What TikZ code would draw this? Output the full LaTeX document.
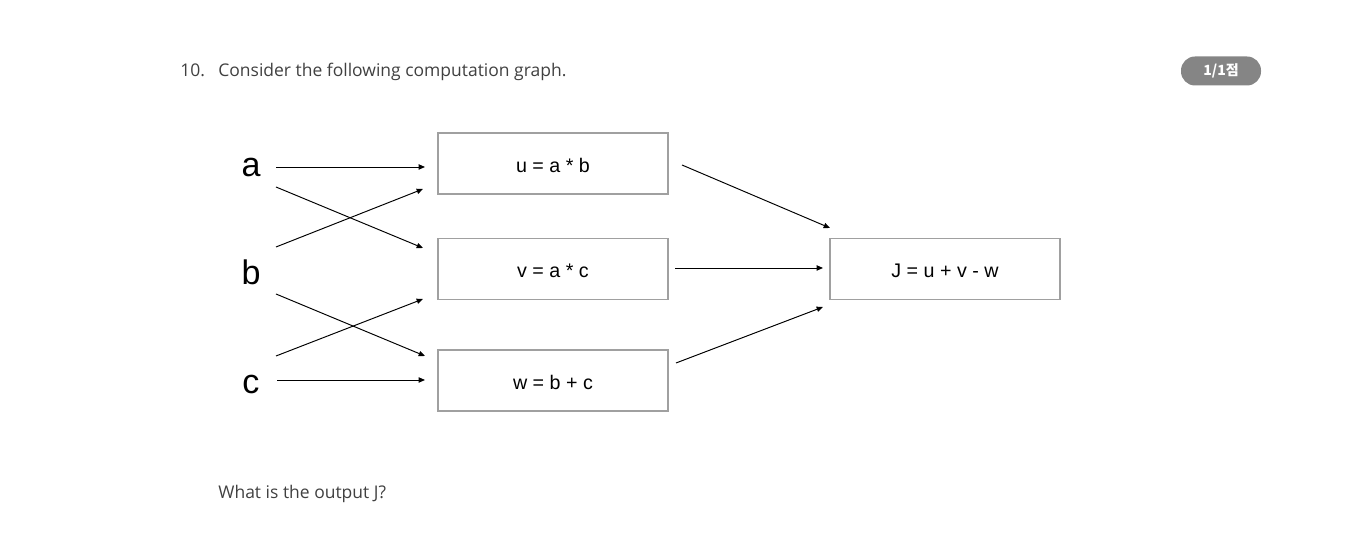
\documentclass[tikz,border=0pt]{standalone}
\usepackage{fontspec}
\setmainfont{Open Sans}
\newfontfamily\graphfont{Liberation Sans}
\newfontfamily\krfont{Noto Sans CJK KR}
\usetikzlibrary{arrows.meta}

\definecolor{textgray}{HTML}{404040}
\definecolor{boxgray}{HTML}{A0A0A0}
\definecolor{badgegray}{HTML}{858585}

\tikzset{
	op/.style={draw=boxgray, line width=0.65pt, minimum width=4.6cm, minimum height=1.22cm, inner sep=0pt, text height=1.1em, text depth=0.08em, font=\graphfont\fontsize{11.2}{13}\selectfont},
	var/.style={inner sep=0pt, font=\graphfont\fontsize{19.4}{22}\selectfont},
	edge/.style={line width=0.55pt, -{Triangle[length=3.6pt,width=3pt]}},
	plain/.style={inner sep=0pt, text=textgray, font=\fontsize{9.95}{12}\selectfont}
}

\begin{document}
\begin{tikzpicture}[x=0.02cm, y=-0.02cm]
	\useasboundingbox (0,0) rectangle (1370,546);
	
	% Question
	\node[plain, anchor=base west] (num) at (180,77) {10.};
	\node[plain, anchor=base west] (q) at (218,77) {Consider the following computation graph.};
	\node[plain, anchor=base west] (ask) at (218,499) {What is the output J?};
	
	% badge
	\node[fill=badgegray, rounded corners=0.28cm, minimum width=1.6cm, minimum height=0.58cm, inner sep=0pt, text=white, font=\krfont\bfseries\fontsize{8}{9}\selectfont] (score) at (1221,71) {1/1점};
	
	% inputs
	\node[var] (a) at (251,168) {a};
	\node[var] (b) at (251,272) {b};
	\node[var] (c) at (251,385) {c};
	
	% Boxes
	\node[op] (u) at (553,163.5) {u = a * b};
	\node[op] (v) at (553,269) {v = a * c};
	\node[op] (w) at (553,380.5) {w = b + c};
	\node[op] (J) at (945,269) {J = u + v - w};
	
	% arrow ends
	\coordinate (a1) at (276,167);
	\coordinate (a2) at (276,187);
	\coordinate (b1) at (276,247);
	\coordinate (b2) at (276,294);
	\coordinate (c1) at (276,356);
	\coordinate (c2) at (277,380);
	\coordinate (u1) at (425,167);
	\coordinate (u2) at (423,189);
	\coordinate (v1) at (423,248);
	\coordinate (v2) at (423,299);
	\coordinate (w1) at (425,356);
	\coordinate (w2) at (425,380);
	\coordinate (uo) at (682,165);
	\coordinate (vo) at (675,268);
	\coordinate (wo) at (676,363);
	\coordinate (J1) at (830,228);
	\coordinate (J2) at (823,268);
	\coordinate (J3) at (823,307);
	
	% edges
	\draw[edge] (a1) -- (u1);
	\draw[edge] (a2) -- (v1);
	\draw[edge] (b1) -- (u2);
	\draw[edge] (b2) -- (w1);
	\draw[edge] (c1) -- (v2);
	\draw[edge] (c2) -- (w2);
	\draw[edge] (uo) -- (J1);
	\draw[edge] (vo) -- (J2);
	\draw[edge] (wo) -- (J3);
\end{tikzpicture}
\end{document}
